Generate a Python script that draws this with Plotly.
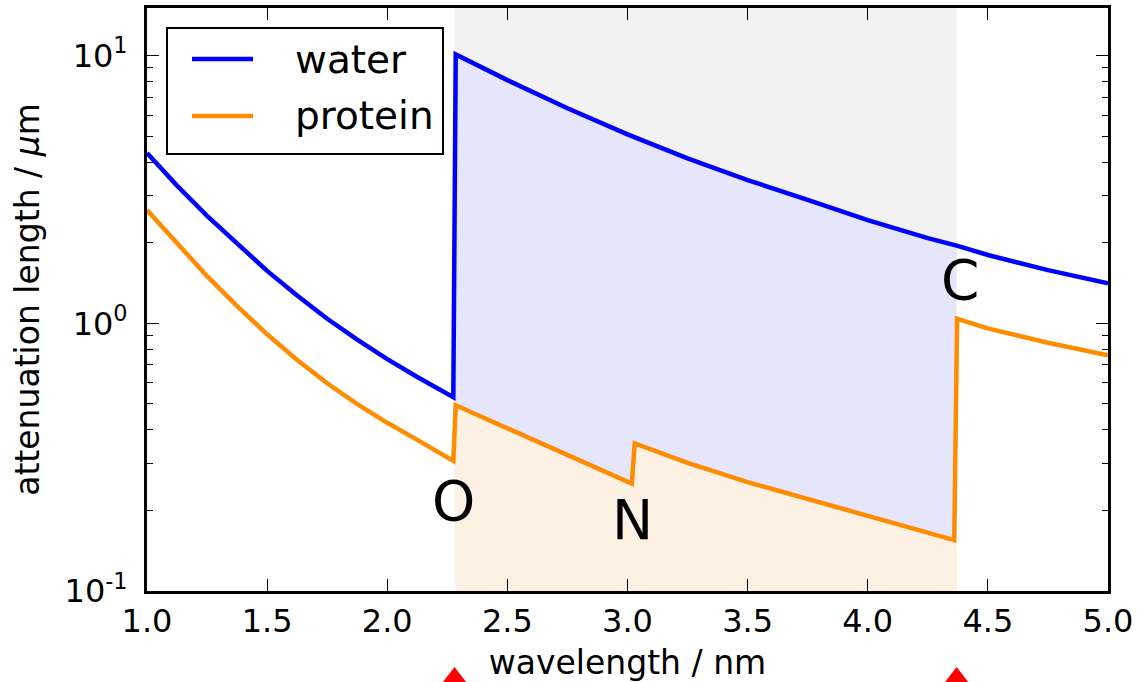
import numpy as np
import plotly.graph_objects as go

# ---- data ----
water_x = [1.0, 1.125, 1.25, 1.375, 1.5, 1.625, 1.75, 1.875, 2.0, 2.125, 2.25, 2.275,
           2.285, 2.5, 2.75, 3.0, 3.25, 3.5, 3.75, 4.0, 4.25, 4.37, 4.5, 4.75, 5.0]
water_y = [4.33, 3.27, 2.52, 1.98, 1.57, 1.27, 1.04, 0.869, 0.735, 0.630, 0.545, 0.530,
           10.1, 8.1, 6.36, 5.08, 4.13, 3.43, 2.89, 2.43, 2.08, 1.95, 1.80, 1.58, 1.41]

protein_x = [1.0, 1.125, 1.25, 1.375, 1.5, 1.625, 1.75, 1.875, 2.0, 2.125, 2.25, 2.275,
             2.285, 2.5, 2.75, 3.0, 3.018, 3.03, 3.25, 3.5, 3.75, 4.0, 4.25, 4.36,
             4.372, 4.5, 4.75, 5.0]
protein_y = [2.65, 1.98, 1.50, 1.16, 0.910, 0.730, 0.597, 0.499, 0.425, 0.367, 0.318, 0.306,
             0.494, 0.405, 0.321, 0.255, 0.252, 0.356, 0.301, 0.255, 0.221, 0.192, 0.166, 0.155,
             1.04, 0.957, 0.846, 0.76]

window = [2.28, 4.37]          # water window (O and C K-edges), nm
edge_labels = ["O", "N", "C"]
edge_label_x = [2.275, 3.019, 4.385]
edge_label_y = [0.216, 0.184, 1.45]

x_ticks = [1.0, 1.5, 2.0, 2.5, 3.0, 3.5, 4.0, 4.5, 5.0]
y_ticks = [0.1, 1, 10]
y_ticktext = ["10<sup>-1</sup>", "10<sup>0</sup>", "10<sup>1</sup>"]
y_minor = [m * 10.0 ** e for e in (-1, 0, 1) for m in range(2, 10)]

FONT = "DejaVu Sans"
BLUE = "#0000ff"
ORANGE = "#ff8c00"

wx, wy = np.array(water_x), np.array(water_y)
px_, py_ = np.array(protein_x), np.array(protein_y)
wm = (wx >= window[0]) & (wx <= window[1])
pm = (px_ >= window[0]) & (px_ < window[1])

fig = go.Figure()

# orange fill: protein down to the axis bottom inside the window
ox = np.concatenate([[px_[pm][0]], px_[pm], [window[1], window[1]]])
oy = np.concatenate([[y_ticks[0]], py_[pm], [py_[pm][-1], y_ticks[0]]])
fig.add_trace(go.Scatter(x=ox, y=oy, mode="lines", fill="toself", fillcolor="#fdf1e4",
                         line=dict(width=0), hoverinfo="skip", showlegend=False))
# blue fill: between water and protein inside the window
bx = np.concatenate([wx[wm], px_[pm][::-1]])
by = np.concatenate([wy[wm], py_[pm][::-1]])
fig.add_trace(go.Scatter(x=bx, y=by, mode="lines", fill="toself", fillcolor="#e5e5fb",
                         line=dict(width=0), hoverinfo="skip", showlegend=False))

fig.add_trace(go.Scatter(x=water_x, y=water_y, mode="lines", name="water",
                         line=dict(color=BLUE, width=4.5), showlegend=False))
fig.add_trace(go.Scatter(x=protein_x, y=protein_y, mode="lines", name="protein",
                         line=dict(color=ORANGE, width=4.5), showlegend=False))

# red triangles marking the window below the axis (own hidden sub-axes in the bottom margin)
fig.add_trace(go.Scatter(x=window, y=[0.055, 0.055], xaxis="x2", yaxis="y2", mode="markers",
                         marker=dict(symbol="triangle-up", size=20, color="red"),
                         cliponaxis=False, showlegend=False, hoverinfo="skip"))

# gray window band
fig.add_shape(type="rect", xref="x", yref="y domain", x0=window[0], x1=window[1], y0=0, y1=1,
              fillcolor="#f2f2f2", line=dict(width=0), layer="below")

for t, x, y in zip(edge_labels, edge_label_x, edge_label_y):
    fig.add_annotation(x=x, y=np.log10(y), text=t, showarrow=False,
                       font=dict(family=FONT, size=55, color="black"),
                       xanchor="center", yanchor="middle")

# legend (drawn manually to match the box proportions)
fig.add_shape(type="rect", xref="x domain", yref="y domain", x0=0.0208, x1=0.308, y0=0.7496, y1=0.9657,
              line=dict(color="black", width=2), fillcolor="white", layer="above")
for name, col, yy in [("water", BLUE, 0.9125), ("protein", ORANGE, 0.8148)]:
    fig.add_shape(type="line", xref="x domain", yref="y domain", x0=0.0468, x1=0.1103, y0=yy, y1=yy,
                  line=dict(color=col, width=4.5), layer="above")
    fig.add_annotation(xref="x domain", yref="y domain", x=0.1515, y=yy, text=name, showarrow=False,
                       font=dict(family=FONT, size=39, color="black"),
                       xanchor="left", yanchor="middle")

axis_common = dict(showline=True, linecolor="black", linewidth=3, mirror="ticks",
                   ticks="inside", ticklen=12, tickwidth=1, tickcolor="black",
                   showgrid=False, zeroline=False, automargin=False,
                   tickfont=dict(family=FONT, size=32, color="black"))

H, T, B_AXIS = 682, 8, 591
y_dom_bottom = (H - B_AXIS) / (H - T)

fig.update_layout(
    width=1141, height=H,
    margin=dict(l=147, r=33, t=T, b=0, autoexpand=False),
    paper_bgcolor="white", plot_bgcolor="white",
    font=dict(family=FONT, color="black"),
    xaxis=dict(range=[1, 5], tickvals=x_ticks, tickformat=".1f", anchor="y",
               title=dict(text="wavelength / nm", font=dict(family=FONT, size=33), standoff=13),
               **axis_common),
    yaxis=dict(type="log", range=[-1, 1.178], tickvals=y_ticks, ticktext=y_ticktext,
               domain=[y_dom_bottom, 1], anchor="x",
               minor=dict(ticks="inside", ticklen=6, tickwidth=1, tickcolor="black",
                          tickvals=y_minor, showgrid=False),
               title=dict(text="attenuation length / <i>μ</i>m", font=dict(family=FONT, size=33),
                          standoff=16),
               ticklabelstandoff=10,
               **axis_common),
    xaxis2=dict(range=[1, 5], anchor="y2", visible=False, showgrid=False, zeroline=False),
    yaxis2=dict(range=[0, 1], domain=[0, y_dom_bottom], anchor="x2", visible=False,
                showgrid=False, zeroline=False),
)

fig.write_html("out.html")
